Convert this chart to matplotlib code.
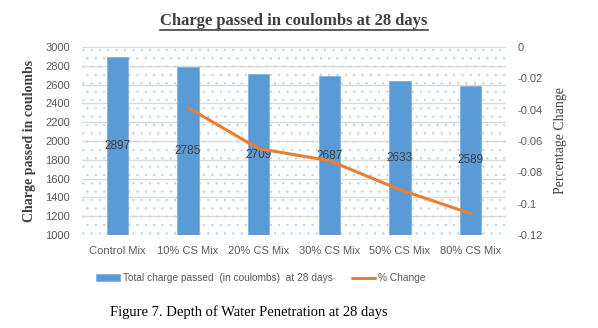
import matplotlib
matplotlib.use("Agg")
import matplotlib.pyplot as plt
from matplotlib.patches import Rectangle
from matplotlib.lines import Line2D
import numpy as np

categories = ["Control Mix", "10% CS Mix", "20% CS Mix", "30% CS Mix", "50% CS Mix", "80% CS Mix"]
charge = [2897, 2785, 2709, 2687, 2633, 2589]
pct_cats = ["10% CS Mix", "20% CS Mix", "30% CS Mix", "50% CS Mix", "80% CS Mix"]
pct_change = [-0.0387, -0.0649, -0.0725, -0.0911, -0.1063]
left_ticks = list(range(1000, 3001, 200))
right_ticks = [0, -0.02, -0.04, -0.06, -0.08, -0.1, -0.12]
right_labels = ["0", "-0.02", "-0.04", "-0.06", "-0.08", "-0.1", "-0.12"]

BLUE = "#5B9BD5"
ORANGE = "#ED7D31"
GRAY = "#595959"

plt.rcParams['hatch.linewidth'] = 0.4
plt.rcParams['hatch.color'] = "#B4D2EE"

fig = plt.figure(figsize=(5.98, 3.28), dpi=100)
W, H = 598, 328
ax = fig.add_axes([82 / W, 1 - 235 / H, (506 - 82) / W, (235 - 47) / H])
ax.set_facecolor("none")

x = np.arange(len(categories))
ax.set_xlim(-0.5, len(categories) - 0.5)
ax.set_ylim(1000, 3000)

# dotted background
bg = Rectangle((0, 0), 1, 1, transform=ax.transAxes, facecolor="white",
               edgecolor="#B4D2EE", hatch="..", linewidth=0, zorder=0)
ax.add_patch(bg)

ax.set_yticks(left_ticks)
ax.yaxis.grid(True, color="#D9D9D9", linewidth=1)
ax.set_axisbelow(True)
for s in ax.spines.values():
    s.set_visible(False)
ax.tick_params(axis="both", length=0, labelsize=8, labelcolor=GRAY)
ax.tick_params(axis="y", pad=8.5)
ax.tick_params(axis="x", pad=8)
ax.set_xticks(x)
ax.set_xticklabels(categories, fontfamily="Liberation Sans")
for lab in ax.get_yticklabels():
    lab.set_fontfamily("Liberation Sans")

bars = ax.bar(x, charge, width=0.3, bottom=0, color=BLUE, edgecolor="#7FB2E0",
              linewidth=0.6, zorder=2, label="Total charge passed  (in coulombs)  at 28 days")
for xi, v in zip(x, charge):
    ax.text(xi, (1000 + v) / 2, str(v), ha="center", va="center", fontsize=8.5,
            color="#404040", fontfamily="Liberation Sans", zorder=5)

ax.set_ylabel("Charge passed in coulombs", fontfamily="Liberation Serif",
              fontweight="bold", fontsize=10, color="#404040", labelpad=7)

ax2 = ax.twinx()
ax2.set_ylim(-0.12, 0)
ax2.set_yticks(right_ticks)
ax2.set_yticklabels(right_labels, fontfamily="Liberation Sans")
ax2.tick_params(axis="y", length=0, labelsize=8, labelcolor=GRAY, pad=8.5)
for s in ax2.spines.values():
    s.set_visible(False)
px = [categories.index(c) for c in pct_cats]
ax2.plot(px, pct_change, color=ORANGE, linewidth=2.2, zorder=4,
         solid_capstyle="round", label="% Change")
ax2.set_ylabel("Percentage Change", fontfamily="Liberation Serif", fontsize=10,
               color="#404040", labelpad=8)

# title with underline
title = fig.text(294 / W, 1 - 21 / H, "Charge passed in coulombs at 28 days",
                 ha="center", va="center", fontfamily="Liberation Serif",
                 fontweight="bold", fontsize=12, color="#404040")
fig.canvas.draw()
bb = title.get_window_extent(fig.canvas.get_renderer())
fy = (bb.y0 - 1) / H
fig.add_artist(Line2D([bb.x0 / W, bb.x1 / W], [fy, fy], color="#404040", linewidth=1.2))

handles = [bars, ax2.get_lines()[0]]
leg = fig.legend(handles, [h.get_label() for h in handles], loc="center",
                 bbox_to_anchor=(261 / W, 1 - 278 / H), ncol=2, frameon=False,
                 prop={"family": "Liberation Sans", "size": 7.3}, columnspacing=1.9,
                 handlelength=2.3, handleheight=0.6, handletextpad=0.3)
for t in leg.get_texts():
    t.set_color(GRAY)

fig.text(249 / W, 1 - 312 / H, "Figure 7. Depth of Water Penetration at 28 days",
         ha="center", va="center", fontfamily="Liberation Serif", fontsize=10.5, color="black")

fig.savefig("out.png", dpi=100)
